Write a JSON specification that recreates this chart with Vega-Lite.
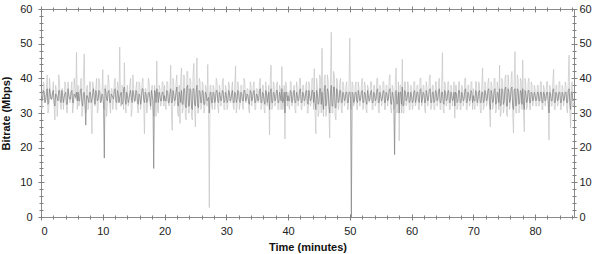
{
  "$schema": "https://vega.github.io/schema/vega-lite/v6.json",
  "width": 533,
  "height": 208,
  "autosize": {"type": "none"},
  "padding": {"left": 41, "top": 9, "right": 26, "bottom": 37},
  "background": "white",
  "config": {
    "view": {"stroke": "#8a8a8a", "strokeWidth": 1},
    "axis": {"domain": false, "grid": false, "tickColor": "#808080", "tickWidth": 1, "labelFont": "Liberation Sans", "labelFontSize": 11, "labelColor": "#222222", "titleFont": "Liberation Sans", "titleFontSize": 11, "titleFontWeight": "bold", "titleColor": "#111111"}
  },
  "data": {"values": [
{"t":0,"l":36,"d":35},{"t":0.125,"l":31,"d":33.5},{"t":0.25,"l":32,"d":34},{"t":0.375,"l":39,"d":36.5},{"t":0.5,"l":38,"d":36},{"t":0.625,"l":33,"d":33},{"t":0.75,"l":33,"d":33.5},{"t":0.875,"l":37,"d":35.5},
{"t":1,"l":41,"d":37},{"t":1.125,"l":30,"d":32.5},{"t":1.25,"l":31,"d":33},{"t":1.375,"l":40,"d":37},{"t":1.5,"l":37,"d":35.5},{"t":1.625,"l":34,"d":34},{"t":1.75,"l":34,"d":34},{"t":1.875,"l":36,"d":36},
{"t":2,"l":39,"d":36.5},{"t":2.125,"l":32,"d":33},{"t":2.25,"l":28,"d":32},{"t":2.375,"l":38,"d":35.5},{"t":2.5,"l":36,"d":35},{"t":2.625,"l":29,"d":34.5},{"t":2.75,"l":33,"d":33.5},{"t":2.875,"l":41,"d":36.5},
{"t":3,"l":39,"d":36.5},{"t":3.125,"l":33,"d":33.5},{"t":3.25,"l":31,"d":33},{"t":3.375,"l":37,"d":36.5},{"t":3.5,"l":37,"d":35},{"t":3.625,"l":31,"d":33},{"t":3.75,"l":34,"d":34.5},{"t":3.875,"l":39,"d":35.5},
{"t":4,"l":38,"d":36},{"t":4.125,"l":31,"d":32.5},{"t":4.25,"l":30,"d":32.5},{"t":4.375,"l":39,"d":37},{"t":4.5,"l":36,"d":35},{"t":4.625,"l":33,"d":34},{"t":4.75,"l":33,"d":34},{"t":4.875,"l":37,"d":36},
{"t":5,"l":39,"d":36.5},{"t":5.125,"l":30,"d":33},{"t":5.25,"l":32,"d":33},{"t":5.375,"l":40,"d":35.5},{"t":5.5,"l":37,"d":35},{"t":5.625,"l":34,"d":34.5},{"t":5.75,"l":47.5,"d":36},{"t":5.875,"l":31,"d":33.5},
{"t":6,"l":38,"d":36},{"t":6.125,"l":32,"d":33.5},{"t":6.25,"l":33,"d":33.5},{"t":6.375,"l":38,"d":36.5},{"t":6.5,"l":40,"d":37},{"t":6.625,"l":29,"d":33},{"t":6.75,"l":31,"d":32},{"t":6.875,"l":41,"d":35.5},
{"t":7,"l":47,"d":36},{"t":7.125,"l":33,"d":32.5},{"t":7.25,"l":30,"d":26.5},{"t":7.375,"l":37,"d":35},{"t":7.5,"l":38,"d":35},{"t":7.625,"l":31,"d":34},{"t":7.75,"l":33,"d":33},{"t":7.875,"l":39,"d":36},
{"t":8,"l":39,"d":36},{"t":8.125,"l":31,"d":33},{"t":8.25,"l":24,"d":34},{"t":8.375,"l":39,"d":35.5},{"t":8.5,"l":37,"d":37},{"t":8.625,"l":33,"d":34.5},{"t":8.75,"l":32,"d":32.5},{"t":8.875,"l":37,"d":36.5},
{"t":9,"l":40,"d":35.5},{"t":9.125,"l":30,"d":33.5},{"t":9.25,"l":31,"d":34},{"t":9.375,"l":40,"d":36.5},{"t":9.5,"l":38,"d":36},{"t":9.625,"l":34,"d":33},{"t":9.75,"l":33,"d":33.5},{"t":9.875,"l":36,"d":35.5},
{"t":10,"l":42.5,"d":35},{"t":10.125,"l":32,"d":32.5},{"t":10.25,"l":31,"d":17},{"t":10.375,"l":38,"d":37},{"t":10.5,"l":38,"d":36},{"t":10.625,"l":29,"d":34},{"t":10.75,"l":33,"d":33.5},{"t":10.875,"l":41,"d":36},
{"t":11,"l":39,"d":36.5},{"t":11.125,"l":33,"d":33},{"t":11.25,"l":30,"d":33},{"t":11.375,"l":37,"d":35.5},{"t":11.5,"l":37,"d":35},{"t":11.625,"l":31,"d":34.5},{"t":11.75,"l":34,"d":34},{"t":11.875,"l":39,"d":36.5},
{"t":12,"l":40,"d":37},{"t":12.125,"l":31,"d":33.5},{"t":12.25,"l":31,"d":33},{"t":12.375,"l":39,"d":36.5},{"t":12.5,"l":38,"d":35.5},{"t":12.625,"l":33,"d":33},{"t":12.75,"l":49,"d":34.5},{"t":12.875,"l":32,"d":35.5},
{"t":13,"l":32,"d":36},{"t":13.125,"l":38,"d":32.5},{"t":13.25,"l":37,"d":33},{"t":13.375,"l":31,"d":37},{"t":13.5,"l":44.5,"d":37.5},{"t":13.625,"l":34,"d":34},{"t":13.75,"l":30,"d":32.5},{"t":13.875,"l":36,"d":36},
{"t":14,"l":38,"d":35},{"t":14.125,"l":32,"d":33},{"t":14.25,"l":33,"d":34},{"t":14.375,"l":38,"d":35.5},{"t":14.5,"l":40,"d":36.5},{"t":14.625,"l":29,"d":34.5},{"t":14.75,"l":31,"d":33},{"t":14.875,"l":41,"d":36.5},
{"t":15,"l":37,"d":35.5},{"t":15.125,"l":33,"d":33.5},{"t":15.25,"l":34,"d":33.5},{"t":15.375,"l":37,"d":36.5},{"t":15.5,"l":39,"d":36},{"t":15.625,"l":31,"d":33},{"t":15.75,"l":30,"d":32.5},{"t":15.875,"l":39,"d":35.5},
{"t":16,"l":38,"d":35},{"t":16.125,"l":31,"d":32.5},{"t":16.25,"l":33,"d":34},{"t":16.375,"l":39,"d":37},{"t":16.5,"l":40,"d":37},{"t":16.625,"l":33,"d":34},{"t":16.75,"l":24,"d":33},{"t":16.875,"l":37,"d":36},
{"t":17,"l":37,"d":35.5},{"t":17.125,"l":30,"d":33},{"t":17.25,"l":32,"d":33.5},{"t":17.375,"l":40,"d":35.5},{"t":17.5,"l":39,"d":36},{"t":17.625,"l":34,"d":34.5},{"t":17.75,"l":31,"d":32},{"t":17.875,"l":36,"d":36.5},
{"t":18,"l":38,"d":35},{"t":18.125,"l":32,"d":33.5},{"t":18.25,"l":29,"d":14},{"t":18.375,"l":38,"d":36.5},{"t":18.5,"l":36,"d":36},{"t":18.625,"l":29,"d":33},{"t":18.75,"l":45,"d":37},{"t":18.875,"l":31,"d":35.5},
{"t":19,"l":30,"d":33},{"t":19.125,"l":38,"d":36},{"t":19.25,"l":37,"d":35},{"t":19.375,"l":32,"d":33.5},{"t":19.5,"l":33,"d":33.5},{"t":19.625,"l":39,"d":36},{"t":19.75,"l":39,"d":36},{"t":19.875,"l":32,"d":33.5},
{"t":20,"l":38,"d":35},{"t":20.125,"l":32,"d":33.5},{"t":20.25,"l":31,"d":33.5},{"t":20.375,"l":39,"d":36.5},{"t":20.5,"l":39,"d":36},{"t":20.625,"l":33,"d":33},{"t":20.75,"l":32,"d":33},{"t":20.875,"l":37,"d":35.5},
{"t":21,"l":43.8,"d":37},{"t":21.125,"l":30,"d":33},{"t":21.25,"l":25,"d":33},{"t":21.375,"l":40,"d":36.5},{"t":21.5,"l":38,"d":35},{"t":21.625,"l":32,"d":33.5},{"t":21.75,"l":33,"d":34},{"t":21.875,"l":39,"d":36},
{"t":22,"l":41,"d":37.5},{"t":22.125,"l":30,"d":32.5},{"t":22.25,"l":29,"d":32},{"t":22.375,"l":38,"d":36},{"t":22.5,"l":27,"d":35},{"t":22.625,"l":40,"d":33},{"t":22.75,"l":43,"d":36.5},{"t":22.875,"l":30,"d":32.5},
{"t":23,"l":31,"d":32.5},{"t":23.125,"l":41,"d":37},{"t":23.25,"l":40,"d":37},{"t":23.375,"l":29,"d":32},{"t":23.5,"l":28,"d":31.5},{"t":23.625,"l":42,"d":37.5},{"t":23.75,"l":42,"d":38},{"t":23.875,"l":30,"d":32},
{"t":24,"l":30,"d":32},{"t":24.125,"l":40,"d":37},{"t":24.25,"l":39,"d":36.5},{"t":24.375,"l":29,"d":31.5},{"t":24.5,"l":28,"d":31},{"t":24.625,"l":41,"d":37},{"t":24.75,"l":44.3,"d":37},{"t":24.875,"l":31,"d":32.5},
{"t":25,"l":26,"d":32},{"t":25.125,"l":39,"d":36},{"t":25.25,"l":45.9,"d":38},{"t":25.375,"l":30,"d":32},{"t":25.5,"l":30,"d":31.5},{"t":25.625,"l":40,"d":36.5},{"t":25.75,"l":39,"d":36},{"t":25.875,"l":31,"d":33},
{"t":26,"l":32,"d":33},{"t":26.125,"l":39,"d":36.5},{"t":26.25,"l":38,"d":36},{"t":26.375,"l":30,"d":32.5},{"t":26.5,"l":31,"d":32.5},{"t":26.625,"l":38,"d":36},{"t":26.75,"l":37,"d":35.5},{"t":26.875,"l":32,"d":33.5},
{"t":27,"l":44,"d":34},{"t":27.125,"l":31,"d":34.5},{"t":27.25,"l":2.7,"d":30},{"t":27.375,"l":38,"d":36},{"t":27.5,"l":38,"d":36},{"t":27.625,"l":32,"d":33},{"t":27.75,"l":31,"d":33},{"t":27.875,"l":38,"d":36},
{"t":28,"l":37,"d":35.5},{"t":28.125,"l":31,"d":33},{"t":28.25,"l":33,"d":34},{"t":28.375,"l":40,"d":36.5},{"t":28.5,"l":39,"d":36.5},{"t":28.625,"l":32,"d":33.5},{"t":28.75,"l":30,"d":33},{"t":28.875,"l":38,"d":36},
{"t":29,"l":37,"d":35},{"t":29.125,"l":32,"d":33.5},{"t":29.25,"l":34,"d":34},{"t":29.375,"l":39,"d":36.5},{"t":29.5,"l":40,"d":36},{"t":29.625,"l":31,"d":33},{"t":29.75,"l":31,"d":33.5},{"t":29.875,"l":38,"d":36},
{"t":30,"l":37,"d":35},{"t":30.125,"l":31,"d":33},{"t":30.25,"l":32,"d":33.5},{"t":30.375,"l":39,"d":36.5},{"t":30.5,"l":38,"d":36},{"t":30.625,"l":33,"d":33.5},{"t":30.75,"l":33,"d":34},{"t":30.875,"l":37,"d":35.5},
{"t":31,"l":39,"d":36.5},{"t":31.125,"l":32,"d":33},{"t":31.25,"l":31,"d":33},{"t":31.375,"l":38,"d":36},{"t":31.5,"l":43.6,"d":35.5},{"t":31.625,"l":30,"d":33},{"t":31.75,"l":32,"d":34},{"t":31.875,"l":39,"d":36.5},
{"t":32,"l":37,"d":36},{"t":32.125,"l":31,"d":33.5},{"t":32.25,"l":33,"d":33},{"t":32.375,"l":38,"d":36},{"t":32.5,"l":38,"d":35.5},{"t":32.625,"l":32,"d":33.5},{"t":32.75,"l":31,"d":33.5},{"t":32.875,"l":40,"d":36.5},
{"t":33,"l":39,"d":36.5},{"t":33.125,"l":33,"d":33.5},{"t":33.25,"l":33,"d":34},{"t":33.375,"l":37,"d":35.5},{"t":33.5,"l":37,"d":35},{"t":33.625,"l":31,"d":33},{"t":33.75,"l":30,"d":32.5},{"t":33.875,"l":39,"d":36.5},
{"t":34,"l":38,"d":36},{"t":34.125,"l":32,"d":33.5},{"t":34.25,"l":34,"d":34},{"t":34.375,"l":38,"d":36},{"t":34.5,"l":39,"d":36.5},{"t":34.625,"l":31,"d":33},{"t":34.75,"l":31,"d":33},{"t":34.875,"l":37,"d":35.5},
{"t":35,"l":37,"d":35},{"t":35.125,"l":33,"d":33.5},{"t":35.25,"l":33,"d":34},{"t":35.375,"l":39,"d":36.5},{"t":35.5,"l":40,"d":37},{"t":35.625,"l":31,"d":33},{"t":35.75,"l":32,"d":33},{"t":35.875,"l":38,"d":36},
{"t":36,"l":38,"d":35.5},{"t":36.125,"l":31,"d":33.5},{"t":36.25,"l":30,"d":32.5},{"t":36.375,"l":39,"d":36.5},{"t":36.5,"l":37,"d":36},{"t":36.625,"l":32,"d":33},{"t":36.75,"l":34,"d":34.5},{"t":36.875,"l":38,"d":36},
{"t":37,"l":23.7,"d":31},{"t":37.125,"l":40,"d":36},{"t":37.25,"l":43.8,"d":37},{"t":37.375,"l":31,"d":33},{"t":37.5,"l":32,"d":33},{"t":37.625,"l":39,"d":36},{"t":37.75,"l":38,"d":35.5},{"t":37.875,"l":32,"d":33.5},
{"t":38,"l":33,"d":34},{"t":38.125,"l":38,"d":36.5},{"t":38.25,"l":39,"d":36.5},{"t":38.375,"l":31,"d":33},{"t":38.5,"l":31,"d":33},{"t":38.625,"l":38,"d":36},{"t":38.75,"l":37,"d":35},{"t":38.875,"l":31,"d":33.5},
{"t":39,"l":43.4,"d":37},{"t":39.125,"l":31,"d":33},{"t":39.25,"l":32,"d":33.5},{"t":39.375,"l":38,"d":36},{"t":39.5,"l":22.5,"d":30},{"t":39.625,"l":39,"d":36},{"t":39.75,"l":38,"d":36},{"t":39.875,"l":32,"d":33.5},
{"t":40,"l":36,"d":35},{"t":40.125,"l":32,"d":33.5},{"t":40.25,"l":31,"d":33.5},{"t":40.375,"l":39,"d":36.5},{"t":40.5,"l":39,"d":36},{"t":40.625,"l":32,"d":33},{"t":40.75,"l":33,"d":34},{"t":40.875,"l":37,"d":36},
{"t":41,"l":38,"d":36.5},{"t":41.125,"l":31,"d":33},{"t":41.25,"l":30,"d":33},{"t":41.375,"l":39,"d":36},{"t":41.5,"l":37,"d":35},{"t":41.625,"l":32,"d":33.5},{"t":41.75,"l":34,"d":34},{"t":41.875,"l":40,"d":36.5},
{"t":42,"l":40,"d":37},{"t":42.125,"l":31,"d":33},{"t":42.25,"l":31,"d":33},{"t":42.375,"l":38,"d":36},{"t":42.5,"l":38,"d":35.5},{"t":42.625,"l":32,"d":33.5},{"t":42.75,"l":33,"d":34},{"t":42.875,"l":38,"d":36},
{"t":43,"l":39,"d":36.5},{"t":43.125,"l":30,"d":33},{"t":43.25,"l":30,"d":32.5},{"t":43.375,"l":39,"d":36.5},{"t":43.5,"l":37,"d":35},{"t":43.625,"l":32,"d":33.5},{"t":43.75,"l":33,"d":34},{"t":43.875,"l":40,"d":36.5},
{"t":44,"l":40,"d":36.5},{"t":44.125,"l":31,"d":33},{"t":44.25,"l":42.8,"d":36},{"t":44.375,"l":30,"d":33},{"t":44.5,"l":24,"d":31},{"t":44.625,"l":40,"d":36.5},{"t":44.75,"l":38,"d":35.5},{"t":44.875,"l":29,"d":32.5},
{"t":45,"l":30,"d":33},{"t":45.125,"l":41,"d":37},{"t":45.25,"l":40,"d":37},{"t":45.375,"l":30,"d":32.5},{"t":45.5,"l":48.7,"d":36},{"t":45.625,"l":31,"d":33},{"t":45.75,"l":29,"d":31},{"t":45.875,"l":40,"d":37},
{"t":46,"l":41,"d":38},{"t":46.125,"l":29,"d":32},{"t":46.25,"l":31,"d":33},{"t":46.375,"l":41,"d":37},{"t":46.5,"l":39,"d":36},{"t":46.625,"l":30,"d":32},{"t":46.75,"l":22.8,"d":30},{"t":46.875,"l":40,"d":36},
{"t":47,"l":53.3,"d":38},{"t":47.125,"l":30,"d":32},{"t":47.25,"l":30,"d":32},{"t":47.375,"l":42,"d":37.5},{"t":47.5,"l":41,"d":37.5},{"t":47.625,"l":29,"d":31.5},{"t":47.75,"l":28,"d":31.5},{"t":47.875,"l":40,"d":37},
{"t":48,"l":39,"d":36},{"t":48.125,"l":31,"d":33},{"t":48.25,"l":32,"d":33.5},{"t":48.375,"l":39,"d":36.5},{"t":48.5,"l":40,"d":36.5},{"t":48.625,"l":31,"d":33},{"t":48.75,"l":30,"d":33},{"t":48.875,"l":39,"d":36},
{"t":49,"l":38,"d":35.5},{"t":49.125,"l":32,"d":33.5},{"t":49.25,"l":33,"d":34},{"t":49.375,"l":38,"d":36},{"t":49.5,"l":39,"d":36},{"t":49.625,"l":31,"d":33},{"t":49.75,"l":31,"d":33},{"t":49.875,"l":38,"d":36},
{"t":50,"l":51.6,"d":36},{"t":50.125,"l":32,"d":34},{"t":50.25,"l":31,"d":0},{"t":50.375,"l":39,"d":36},{"t":50.5,"l":38,"d":35.5},{"t":50.625,"l":32,"d":33},{"t":50.75,"l":33,"d":33.5},{"t":50.875,"l":38,"d":36},
{"t":51,"l":39,"d":36},{"t":51.125,"l":31,"d":33.5},{"t":51.25,"l":31,"d":33},{"t":51.375,"l":39,"d":36.5},{"t":51.5,"l":37,"d":35},{"t":51.625,"l":32,"d":33.5},{"t":51.75,"l":34,"d":34},{"t":51.875,"l":38,"d":36},
{"t":52,"l":40,"d":36.5},{"t":52.125,"l":31,"d":33},{"t":52.25,"l":32,"d":33},{"t":52.375,"l":39,"d":36},{"t":52.5,"l":38,"d":35.5},{"t":52.625,"l":31,"d":33.5},{"t":52.75,"l":30,"d":32.5},{"t":52.875,"l":38,"d":36.5},
{"t":53,"l":37,"d":35},{"t":53.125,"l":33,"d":33.5},{"t":53.25,"l":34,"d":34},{"t":53.375,"l":39,"d":36},{"t":53.5,"l":39,"d":36.5},{"t":53.625,"l":31,"d":33},{"t":53.75,"l":31,"d":33},{"t":53.875,"l":38,"d":36},
{"t":54,"l":38,"d":35.5},{"t":54.125,"l":32,"d":33.5},{"t":54.25,"l":33,"d":34},{"t":54.375,"l":40,"d":36.5},{"t":54.5,"l":40,"d":37},{"t":54.625,"l":31,"d":33},{"t":54.75,"l":30,"d":33},{"t":54.875,"l":38,"d":36},
{"t":55,"l":37,"d":35},{"t":55.125,"l":32,"d":33.5},{"t":55.25,"l":33,"d":34},{"t":55.375,"l":39,"d":36},{"t":55.5,"l":39,"d":36.5},{"t":55.625,"l":31,"d":33},{"t":55.75,"l":31,"d":33},{"t":55.875,"l":38,"d":36},
{"t":56,"l":38,"d":35.5},{"t":56.125,"l":32,"d":33.5},{"t":56.25,"l":34,"d":34},{"t":56.375,"l":40,"d":36.5},{"t":56.5,"l":41,"d":37},{"t":56.625,"l":31,"d":33},{"t":56.75,"l":30,"d":32.5},{"t":56.875,"l":38,"d":36},
{"t":57,"l":37,"d":35},{"t":57.125,"l":31,"d":33},{"t":57.25,"l":32,"d":18},{"t":57.375,"l":39,"d":36},{"t":57.5,"l":43,"d":36.5},{"t":57.625,"l":30,"d":32.5},{"t":57.75,"l":31,"d":33},{"t":57.875,"l":39,"d":36},
{"t":58,"l":22,"d":30},{"t":58.125,"l":38,"d":36},{"t":58.25,"l":38,"d":36},{"t":58.375,"l":30,"d":32.5},{"t":58.5,"l":45.5,"d":37.5},{"t":58.625,"l":30,"d":32},{"t":58.75,"l":30,"d":32.5},{"t":58.875,"l":39,"d":36.5},
{"t":59,"l":39,"d":36},{"t":59.125,"l":32,"d":33.5},{"t":59.25,"l":33,"d":34},{"t":59.375,"l":39,"d":36},{"t":59.5,"l":38,"d":36},{"t":59.625,"l":31,"d":33},{"t":59.75,"l":31,"d":33.5},{"t":59.875,"l":38,"d":36},
{"t":60,"l":37,"d":35},{"t":60.125,"l":31,"d":33},{"t":60.25,"l":32,"d":33.5},{"t":60.375,"l":39,"d":36},{"t":60.5,"l":39,"d":36.5},{"t":60.625,"l":32,"d":33},{"t":60.75,"l":33,"d":34},{"t":60.875,"l":38,"d":36},
{"t":61,"l":38,"d":36},{"t":61.125,"l":31,"d":33.5},{"t":61.25,"l":31,"d":33},{"t":61.375,"l":40,"d":36.5},{"t":61.5,"l":40,"d":37},{"t":61.625,"l":32,"d":33},{"t":61.75,"l":33,"d":34},{"t":61.875,"l":38,"d":36},
{"t":62,"l":38,"d":35.5},{"t":62.125,"l":31,"d":33},{"t":62.25,"l":30,"d":33},{"t":62.375,"l":39,"d":36.5},{"t":62.5,"l":37,"d":35},{"t":62.625,"l":32,"d":33.5},{"t":62.75,"l":34,"d":34.5},{"t":62.875,"l":40,"d":36.5},
{"t":63,"l":41,"d":37},{"t":63.125,"l":31,"d":33},{"t":63.25,"l":32,"d":33},{"t":63.375,"l":38,"d":36},{"t":63.5,"l":38,"d":36},{"t":63.625,"l":31,"d":33},{"t":63.75,"l":31,"d":33.5},{"t":63.875,"l":39,"d":36.5},
{"t":64,"l":39,"d":36},{"t":64.125,"l":32,"d":33.5},{"t":64.25,"l":33,"d":34},{"t":64.375,"l":39,"d":36.5},{"t":64.5,"l":40,"d":37},{"t":64.625,"l":31,"d":33},{"t":64.75,"l":31,"d":33},{"t":64.875,"l":38,"d":36},
{"t":65,"l":47.4,"d":36},{"t":65.125,"l":31,"d":33},{"t":65.25,"l":30,"d":32.5},{"t":65.375,"l":39,"d":36.5},{"t":65.5,"l":38,"d":35.5},{"t":65.625,"l":32,"d":33.5},{"t":65.75,"l":33,"d":34},{"t":65.875,"l":39,"d":36},
{"t":66,"l":39,"d":36.5},{"t":66.125,"l":31,"d":33},{"t":66.25,"l":31,"d":33},{"t":66.375,"l":38,"d":36},{"t":66.5,"l":37,"d":35},{"t":66.625,"l":32,"d":33.5},{"t":66.75,"l":34,"d":34},{"t":66.875,"l":39,"d":36},
{"t":67,"l":28.5,"d":32},{"t":67.125,"l":38,"d":36},{"t":67.25,"l":38,"d":35.5},{"t":67.375,"l":31,"d":33},{"t":67.5,"l":32,"d":33.5},{"t":67.625,"l":39,"d":36.5},{"t":67.75,"l":39,"d":36.5},{"t":67.875,"l":31,"d":33},
{"t":68,"l":31,"d":33},{"t":68.125,"l":38,"d":36},{"t":68.25,"l":37,"d":35},{"t":68.375,"l":32,"d":33.5},{"t":68.5,"l":34,"d":34},{"t":68.625,"l":40,"d":36.5},{"t":68.75,"l":40,"d":37},{"t":68.875,"l":31,"d":33},
{"t":69,"l":31,"d":33},{"t":69.125,"l":38,"d":36},{"t":69.25,"l":38,"d":35.5},{"t":69.375,"l":32,"d":33.5},{"t":69.5,"l":33,"d":34},{"t":69.625,"l":39,"d":36.5},{"t":69.75,"l":39,"d":36},{"t":69.875,"l":31,"d":33},
{"t":70,"l":37,"d":35},{"t":70.125,"l":32,"d":33.5},{"t":70.25,"l":31,"d":33.5},{"t":70.375,"l":39,"d":36.5},{"t":70.5,"l":39,"d":36},{"t":70.625,"l":32,"d":33},{"t":70.75,"l":33,"d":34},{"t":70.875,"l":39,"d":36},
{"t":71,"l":38,"d":36.5},{"t":71.125,"l":31,"d":33},{"t":71.25,"l":30,"d":33},{"t":71.375,"l":38,"d":36},{"t":71.5,"l":43,"d":36},{"t":71.625,"l":31,"d":33},{"t":71.75,"l":32,"d":33.5},{"t":71.875,"l":39,"d":36.5},
{"t":72,"l":38,"d":35.5},{"t":72.125,"l":32,"d":33.5},{"t":72.25,"l":33,"d":34},{"t":72.375,"l":39,"d":36.5},{"t":72.5,"l":40,"d":37},{"t":72.625,"l":31,"d":33},{"t":72.75,"l":26,"d":31},{"t":72.875,"l":39,"d":36.5},
{"t":73,"l":38,"d":35.5},{"t":73.125,"l":31,"d":33},{"t":73.25,"l":32,"d":33.5},{"t":73.375,"l":40,"d":36.5},{"t":73.5,"l":40,"d":37},{"t":73.625,"l":30,"d":32.5},{"t":73.75,"l":31,"d":33},{"t":73.875,"l":39,"d":36},
{"t":74,"l":37,"d":35.5},{"t":74.125,"l":31,"d":33},{"t":74.25,"l":43.8,"d":37},{"t":74.375,"l":29,"d":32},{"t":74.5,"l":30,"d":32.5},{"t":74.625,"l":40,"d":37},{"t":74.75,"l":39,"d":36.5},{"t":74.875,"l":30,"d":32.5},
{"t":75,"l":32,"d":33.5},{"t":75.125,"l":40,"d":37},{"t":75.25,"l":41,"d":37.5},{"t":75.375,"l":30,"d":32},{"t":75.5,"l":29,"d":32},{"t":75.625,"l":41,"d":37},{"t":75.75,"l":38,"d":36},{"t":75.875,"l":31,"d":33},
{"t":76,"l":33,"d":34},{"t":76.125,"l":40,"d":37},{"t":76.25,"l":42,"d":37.5},{"t":76.375,"l":30,"d":32},{"t":76.5,"l":24.2,"d":31},{"t":76.625,"l":39,"d":36.5},{"t":76.75,"l":47.7,"d":37},{"t":76.875,"l":30,"d":32},
{"t":77,"l":30,"d":32.5},{"t":77.125,"l":41,"d":37},{"t":77.25,"l":40,"d":36.5},{"t":77.375,"l":30,"d":32.5},{"t":77.5,"l":31,"d":33},{"t":77.625,"l":40,"d":36.5},{"t":77.75,"l":39,"d":36},{"t":77.875,"l":31,"d":32.5},
{"t":78,"l":45.3,"d":37},{"t":78.125,"l":30,"d":32.5},{"t":78.25,"l":24.6,"d":31},{"t":78.375,"l":40,"d":36.5},{"t":78.5,"l":38,"d":35.5},{"t":78.625,"l":31,"d":33},{"t":78.75,"l":32,"d":33.5},{"t":78.875,"l":39,"d":36.5},
{"t":79,"l":40,"d":36.5},{"t":79.125,"l":31,"d":33},{"t":79.25,"l":31,"d":33},{"t":79.375,"l":39,"d":36},{"t":79.5,"l":38,"d":35.5},{"t":79.625,"l":32,"d":33.5},{"t":79.75,"l":33,"d":34},{"t":79.875,"l":38,"d":36},
{"t":80,"l":37,"d":35},{"t":80.125,"l":32,"d":33.5},{"t":80.25,"l":32,"d":34},{"t":80.375,"l":38,"d":36},{"t":80.5,"l":38,"d":36},{"t":80.625,"l":32,"d":33.5},{"t":80.75,"l":33,"d":33.5},{"t":80.875,"l":39,"d":36},
{"t":81,"l":39,"d":36},{"t":81.125,"l":31,"d":33},{"t":81.25,"l":31,"d":33},{"t":81.375,"l":38,"d":36},{"t":81.5,"l":37,"d":35.5},{"t":81.625,"l":32,"d":33.5},{"t":81.75,"l":34,"d":34},{"t":81.875,"l":39,"d":36},
{"t":82,"l":39,"d":36},{"t":82.125,"l":32,"d":33.5},{"t":82.25,"l":22.2,"d":30},{"t":82.375,"l":38,"d":36},{"t":82.5,"l":37,"d":35.5},{"t":82.625,"l":32,"d":33.5},{"t":82.75,"l":32,"d":33.5},{"t":82.875,"l":39,"d":36.5},
{"t":83,"l":42.6,"d":37},{"t":83.125,"l":31,"d":33},{"t":83.25,"l":31,"d":33},{"t":83.375,"l":38,"d":36},{"t":83.5,"l":38,"d":35.5},{"t":83.625,"l":32,"d":33.5},{"t":83.75,"l":33,"d":34},{"t":83.875,"l":39,"d":36},
{"t":84,"l":39,"d":36},{"t":84.125,"l":31,"d":33},{"t":84.25,"l":31,"d":33},{"t":84.375,"l":38,"d":36},{"t":84.5,"l":37,"d":35.5},{"t":84.625,"l":32,"d":33.5},{"t":84.75,"l":34,"d":34},{"t":84.875,"l":39,"d":36},
{"t":85,"l":38,"d":36},{"t":85.125,"l":31,"d":33},{"t":85.25,"l":30,"d":33},{"t":85.375,"l":39,"d":36.5},{"t":85.5,"l":46.7,"d":37},{"t":85.625,"l":31,"d":33},{"t":85.75,"l":25.7,"d":31},{"t":85.875,"l":38,"d":36},
{"t":86,"l":39,"d":36},{"t":86.125,"l":32,"d":33.5},{"t":86.25,"l":33,"d":34}
  ]},
  "layer": [
    {
      "mark": {"type": "line", "color": "#c4c4c4", "strokeWidth": 0.7, "clip": true},
      "encoding": {
        "x": {"field": "t", "type": "quantitative", "scale": {"domain": [0, 86.3], "nice": false, "zero": false}, "axis": {"orient": "bottom", "values": [0,10,20,30,40,50,60,70,80], "tickSize": 6, "offset": -3, "labelPadding": 5, "title": "Time (minutes)", "titlePadding": 5}},
        "y": {"field": "l", "type": "quantitative", "scale": {"domain": [0, 60], "nice": false}, "axis": {"orient": "left", "values": [0,10,20,30,40,50,60], "tickSize": 6, "offset": -3, "labelPadding": 6, "title": "Bitrate (Mbps)", "titlePadding": 8}}
      }
    },
    {
      "mark": {"type": "line", "color": "#808080", "strokeWidth": 0.7, "clip": true},
      "encoding": {
        "x": {"field": "t", "type": "quantitative", "scale": {"domain": [0, 86.3], "nice": false, "zero": false}, "axis": {"orient": "top", "values": [0,10,20,30,40,50,60,70,80], "tickSize": 6, "offset": -3, "labels": false, "title": null}},
        "y": {"field": "d", "type": "quantitative", "scale": {"domain": [0, 60], "nice": false}, "axis": {"orient": "right", "values": [0,10,20,30,40,50,60], "tickSize": 6, "offset": -3, "labelPadding": 2, "title": null}}
      }
    },
    {
      "mark": {"type": "point", "opacity": 0},
      "encoding": {
        "x": {"field": "t", "type": "quantitative", "scale": {"domain": [0, 86.3], "nice": false, "zero": false}, "axis": {"orient": "bottom", "values": [2,4,6,8,12,14,16,18,22,24,26,28,32,34,36,38,42,44,46,48,52,54,56,58,62,64,66,68,72,74,76,78,82,84,86], "tickSize": 4, "offset": -2, "labels": false, "title": null}},
        "y": {"field": "d", "type": "quantitative", "scale": {"domain": [0, 60], "nice": false}, "axis": {"orient": "left", "values": [2,4,6,8,12,14,16,18,22,24,26,28,32,34,36,38,42,44,46,48,52,54,56,58], "tickSize": 4, "offset": -2, "labels": false, "title": null}}
      }
    },
    {
      "mark": {"type": "point", "opacity": 0},
      "encoding": {
        "x": {"field": "t", "type": "quantitative", "scale": {"domain": [0, 86.3], "nice": false, "zero": false}, "axis": {"orient": "top", "values": [2,4,6,8,12,14,16,18,22,24,26,28,32,34,36,38,42,44,46,48,52,54,56,58,62,64,66,68,72,74,76,78,82,84,86], "tickSize": 4, "offset": -2, "labels": false, "title": null}},
        "y": {"field": "d", "type": "quantitative", "scale": {"domain": [0, 60], "nice": false}, "axis": {"orient": "right", "values": [2,4,6,8,12,14,16,18,22,24,26,28,32,34,36,38,42,44,46,48,52,54,56,58], "tickSize": 4, "offset": -2, "labels": false, "title": null}}
      }
    }
  ],
  "resolve": {"axis": {"x": "independent", "y": "independent"}}
}
